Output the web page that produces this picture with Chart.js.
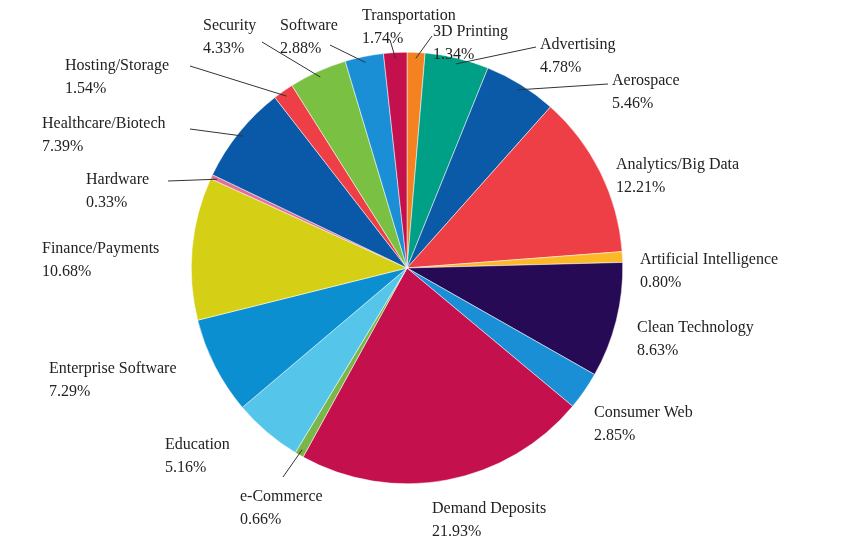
<!DOCTYPE html>
<html>
<head>
<meta charset="utf-8">
<script src="https://cdn.jsdelivr.net/npm/chart.js@4"></script>
<style>
  html, body { margin: 0; padding: 0; background: #fff; }
  #wrap { width: 851px; height: 539px; }
</style>
</head>
<body>
<div id="wrap"><canvas id="pie"></canvas></div>
<script>
// 各行业占比（从 12 点方向顺时针）
const sectors = [
  { name: '3D Printing', value: 1.34, color: '#f58220', label: [433, 24], line: [432, 36] },
  { name: 'Advertising', value: 4.78, color: '#00a087', label: [540, 37], line: [536, 47] },
  { name: 'Aerospace', value: 5.46, color: '#0a5aa8', label: [612, 73], line: [608, 84] },
  { name: 'Analytics/Big Data', value: 12.21, color: '#ee3f46', label: [616, 157] },
  { name: 'Artificial Intelligence', value: 0.80, color: '#fdb827', label: [640, 252] },
  { name: 'Clean Technology', value: 8.63, color: '#260a56', label: [637, 320] },
  { name: 'Consumer Web', value: 2.85, color: '#1b8fd6', label: [594, 405] },
  { name: 'Demand Deposits', value: 21.93, color: '#c4104c', label: [432, 501] },
  { name: 'e-Commerce', value: 0.66, color: '#7ab648', label: [240, 489], line: [283, 477] },
  { name: 'Education', value: 5.16, color: '#56c5ea', label: [165, 437] },
  { name: 'Enterprise Software', value: 7.29, color: '#0b8fd0', label: [49, 361] },
  { name: 'Finance/Payments', value: 10.68, color: '#d5d016', label: [42, 241] },
  { name: 'Hardware', value: 0.33, color: '#e2709a', label: [86, 172], line: [168, 181] },
  { name: 'Healthcare/Biotech', value: 7.39, color: '#0959a8', label: [42, 116], line: [190, 129] },
  { name: 'Hosting/Storage', value: 1.54, color: '#ee3f46', label: [65, 58], line: [190, 66] },
  { name: 'Security', value: 4.33, color: '#7ac143', label: [203, 18], line: [262, 42] },
  { name: 'Software', value: 2.88, color: '#1b8fd6', label: [280, 18], line: [330, 45] },
  { name: 'Transportation', value: 1.74, color: '#c4104c', label: [362, 8], line: [390, 40] },
];

// 外部标签 + 引线
const outLabels = {
  id: 'outLabels',
  afterDatasetsDraw(chart) {
    const ctx = chart.ctx;
    const arcs = chart.getDatasetMeta(0).data;
    ctx.save();
    ctx.font = '16px "Liberation Serif", "DejaVu Serif", serif';
    ctx.fillStyle = '#222';
    ctx.textBaseline = 'top';
    ctx.strokeStyle = '#333';
    ctx.lineWidth = 1;
    sectors.forEach((s, i) => {
      const [x, y] = s.label;
      ctx.fillText(s.name, x, y);
      ctx.fillText(s.value.toFixed(2) + '%', x, y + 23);
      if (s.line) {
        const a = arcs[i];
        const mid = (a.startAngle + a.endAngle) / 2;
        const r = a.outerRadius - 6;
        ctx.beginPath();
        ctx.moveTo(s.line[0], s.line[1]);
        ctx.lineTo(a.x + Math.cos(mid) * r, a.y + Math.sin(mid) * r);
        ctx.stroke();
      }
    });
    ctx.restore();
  },
};

new Chart(document.getElementById('pie').getContext('2d'), {
  type: 'pie',
  data: {
    labels: sectors.map(s => s.name),
    datasets: [{
      data: sectors.map(s => s.value),
      backgroundColor: sectors.map(s => s.color),
      borderColor: '#ffffff',
      borderWidth: 0.5,
    }],
  },
  options: {
    responsive: true,
    maintainAspectRatio: false,
    animation: false,
    layout: { padding: { left: 191, right: 228, top: 52, bottom: 55 } },
    plugins: {
      legend: { display: false },
      tooltip: { enabled: false },
    },
  },
  plugins: [outLabels],
});
</script>
</body>
</html>
